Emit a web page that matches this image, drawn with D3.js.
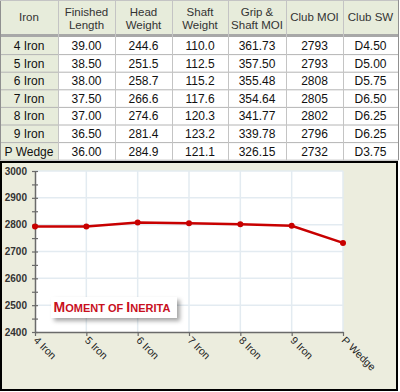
<!DOCTYPE html>
<html><head><meta charset="utf-8">
<script src="https://cdn.jsdelivr.net/npm/d3@7"></script>
<style>
html,body{margin:0;padding:0;background:#fff;}
svg{display:block;}
</style></head>
<body>
<svg id="c" width="400" height="392"></svg>
<script>
const irons = ["4 Iron","5 Iron","6 Iron","7 Iron","8 Iron","9 Iron","P Wedge"];
const finishedLength = [39.00,38.50,38.00,37.50,37.00,36.50,36.00];
const headWeight = [244.6,251.5,258.7,266.6,274.6,281.4,284.9];
const shaftWeight = [110.0,112.5,115.2,117.6,120.3,123.2,121.1];
const gripShaftMOI = [361.73,357.50,355.48,354.64,341.77,339.78,326.15];
const clubMOI = [2793,2793,2808,2805,2802,2796,2732];
const clubSW = ["D4.50","D5.00","D5.75","D6.50","D6.25","D6.25","D3.75"];
const headers = [["Iron"],["Finished","Length"],["Head","Weight"],["Shaft","Weight"],["Grip &","Shaft MOI"],["Club MOI"],["Club SW"]];
const yTicks = [2400,2500,2600,2700,2800,2900,3000];
const chartTitle = "Moment of Inerita";

const svg = d3.select("#c");
const F = "Tahoma, 'Liberation Sans', Arial, sans-serif";

// ---------- Table ----------
const colX = d3.scaleOrdinal().domain(d3.range(8)).range([0,58,115,172,228,286,343,398]);
const hdrH = 34, rowTop = 37, rowH = 17.6;
const cols = [
  irons,
  finishedLength.map(d3.format(".2f")),
  headWeight.map(d3.format(".1f")),
  shaftWeight.map(d3.format(".1f")),
  gripShaftMOI.map(d3.format(".2f")),
  clubMOI.map(d3.format("d")),
  clubSW
];
const hdrBg = "#e7ecdb";
const tbl = svg.append("g");
tbl.append("rect").attr("x",0).attr("y",0).attr("width",398).attr("height",hdrH).attr("fill",hdrBg);
tbl.append("rect").attr("x",0).attr("y",rowTop).attr("width",58).attr("height",rowH*7).attr("fill",hdrBg);
tbl.append("rect").attr("x",0).attr("y",hdrH).attr("width",398).attr("height",3).attr("fill","#a8a8a8");
for (let i=1;i<=7;i++){
  tbl.append("line").attr("x1",0).attr("x2",398)
    .attr("y1",rowTop+i*rowH).attr("y2",rowTop+i*rowH)
    .attr("stroke","#b4b4b4").attr("stroke-width",1);
}
for (let c=0;c<=7;c++){
  const x = c===0?0.5:(c===7?398.5:colX(c)+0.5);
  tbl.append("line").attr("x1",x).attr("x2",x).attr("y1",0).attr("y2",rowTop+7*rowH)
    .attr("stroke",c===0||c===7?"#909090":"#c4c4c4").attr("stroke-width",1);
}
tbl.append("line").attr("x1",0).attr("x2",398).attr("y1",0.5).attr("y2",0.5).attr("stroke","#c4c4c4");
headers.forEach((h,c)=>{
  const cx=(colX(c)+colX(c+1))/2;
  const t=tbl.append("text").attr("x",cx).attr("text-anchor","middle")
    .attr("font-family",F).attr("font-size",11.5).attr("fill","#333");
  if(h.length===1){ t.attr("y",hdrH/2+4).text(h[0]); }
  else {
    t.append("tspan").attr("x",cx).attr("y",16).text(h[0]);
    t.append("tspan").attr("x",cx).attr("y",29).text(h[1]);
  }
});
cols.forEach((col,c)=>{
  const cx=(colX(c)+colX(c+1))/2;
  tbl.selectAll(null).data(col).enter().append("text")
    .attr("x",cx).attr("y",(d,i)=>rowTop+i*rowH+rowH/2+4.2)
    .attr("text-anchor","middle").attr("font-family",F).attr("font-size",12)
    .attr("fill","#111").text(d=>d);
});

// ---------- Chart ----------
const cg = svg.append("g");
cg.append("rect").attr("x",1).attr("y",162).attr("width",396).attr("height",228)
  .attr("fill","#ecedde").attr("stroke","#000").attr("stroke-width",2);

const x = d3.scalePoint().domain(irons).range([35,343]);
const y = d3.scaleLinear().domain([2400,3000]).range([332,171]);

cg.append("rect").attr("x",35).attr("y",171).attr("width",308).attr("height",161).attr("fill","#fff");
cg.selectAll(".vg").data(irons.slice(1)).enter().append("line")
  .attr("x1",d=>x(d)).attr("x2",d=>x(d)).attr("y1",171).attr("y2",332)
  .attr("stroke","#e3ebf1").attr("stroke-width",1.5);
cg.selectAll(".hg").data(yTicks.slice(1)).enter().append("line")
  .attr("x1",35).attr("x2",343).attr("y1",d=>y(d)).attr("y2",d=>y(d))
  .attr("stroke","#e3ebf1").attr("stroke-width",1.5);

const yAx = cg.append("g").attr("transform","translate(35,0)")
  .call(d3.axisLeft(y).tickValues(d3.range(2400,3001,50)).tickSize(0).tickFormat(""));
yAx.select(".domain").attr("stroke","#6a6a6a").attr("stroke-width",1.5);
yAx.selectAll(".tick").append("line").attr("x1",-3).attr("x2",3).attr("stroke","#6a6a6a").attr("stroke-width",1.2);
cg.selectAll(".yl").data(yTicks).enter().append("text")
  .attr("x",27).attr("y",d=>y(d)+3.5).attr("text-anchor","end")
  .attr("font-family",F).attr("font-weight","bold").attr("font-size",10).attr("fill","#333").text(d=>d);

const xAx = cg.append("g").attr("transform","translate(0,332)")
  .call(d3.axisBottom(x).tickSize(4).tickSizeOuter(0).tickFormat(""));
xAx.select(".domain").attr("stroke","#6a6a6a").attr("stroke-width",1.5);
xAx.selectAll(".tick line").attr("stroke","#6a6a6a").attr("stroke-width",1.2);
cg.selectAll(".xl").data(irons).enter().append("text")
  .attr("transform",d=>`translate(${x(d)-2},${341}) rotate(45)`)
  .attr("font-family",F).attr("font-size",10.5).attr("fill","#222").text(d=>d);

const pts = irons.map((d,i)=>({k:d,v:clubMOI[i]}));
cg.append("path").datum(pts)
  .attr("d",d3.line().x(d=>x(d.k)).y(d=>y(d.v)))
  .attr("fill","none").attr("stroke","#c80000").attr("stroke-width",2.5);
cg.selectAll(".pt").data(pts).enter().append("circle")
  .attr("cx",d=>x(d.k)).attr("cy",d=>y(d.v)).attr("r",3).attr("fill","#c80000");

const defs = svg.append("defs");
const f = defs.append("filter").attr("id","sh").attr("x","-20%").attr("y","-50%").attr("width","150%").attr("height","250%");
f.append("feDropShadow").attr("dx",3).attr("dy",3).attr("stdDeviation",2).attr("flood-color","#000").attr("flood-opacity",0.35);
cg.append("rect").attr("x",51).attr("y",297).attr("width",126).attr("height",21)
  .attr("fill","#fff").attr("filter","url(#sh)");
const tt = cg.append("text").attr("x",53.5).attr("y",311.5).attr("font-family",F)
  .attr("font-weight","bold").attr("fill","#c8101e");
chartTitle.split(" ").forEach((w,i)=>{
  if(i>0) tt.append("tspan").attr("font-size",11).text(" ");
  const big = w[0] === w[0].toUpperCase();
  tt.append("tspan").attr("font-size",big?14:11).text(w[0].toUpperCase());
  tt.append("tspan").attr("font-size",11).text(w.slice(1).toUpperCase());
});
</script>
</body></html>
